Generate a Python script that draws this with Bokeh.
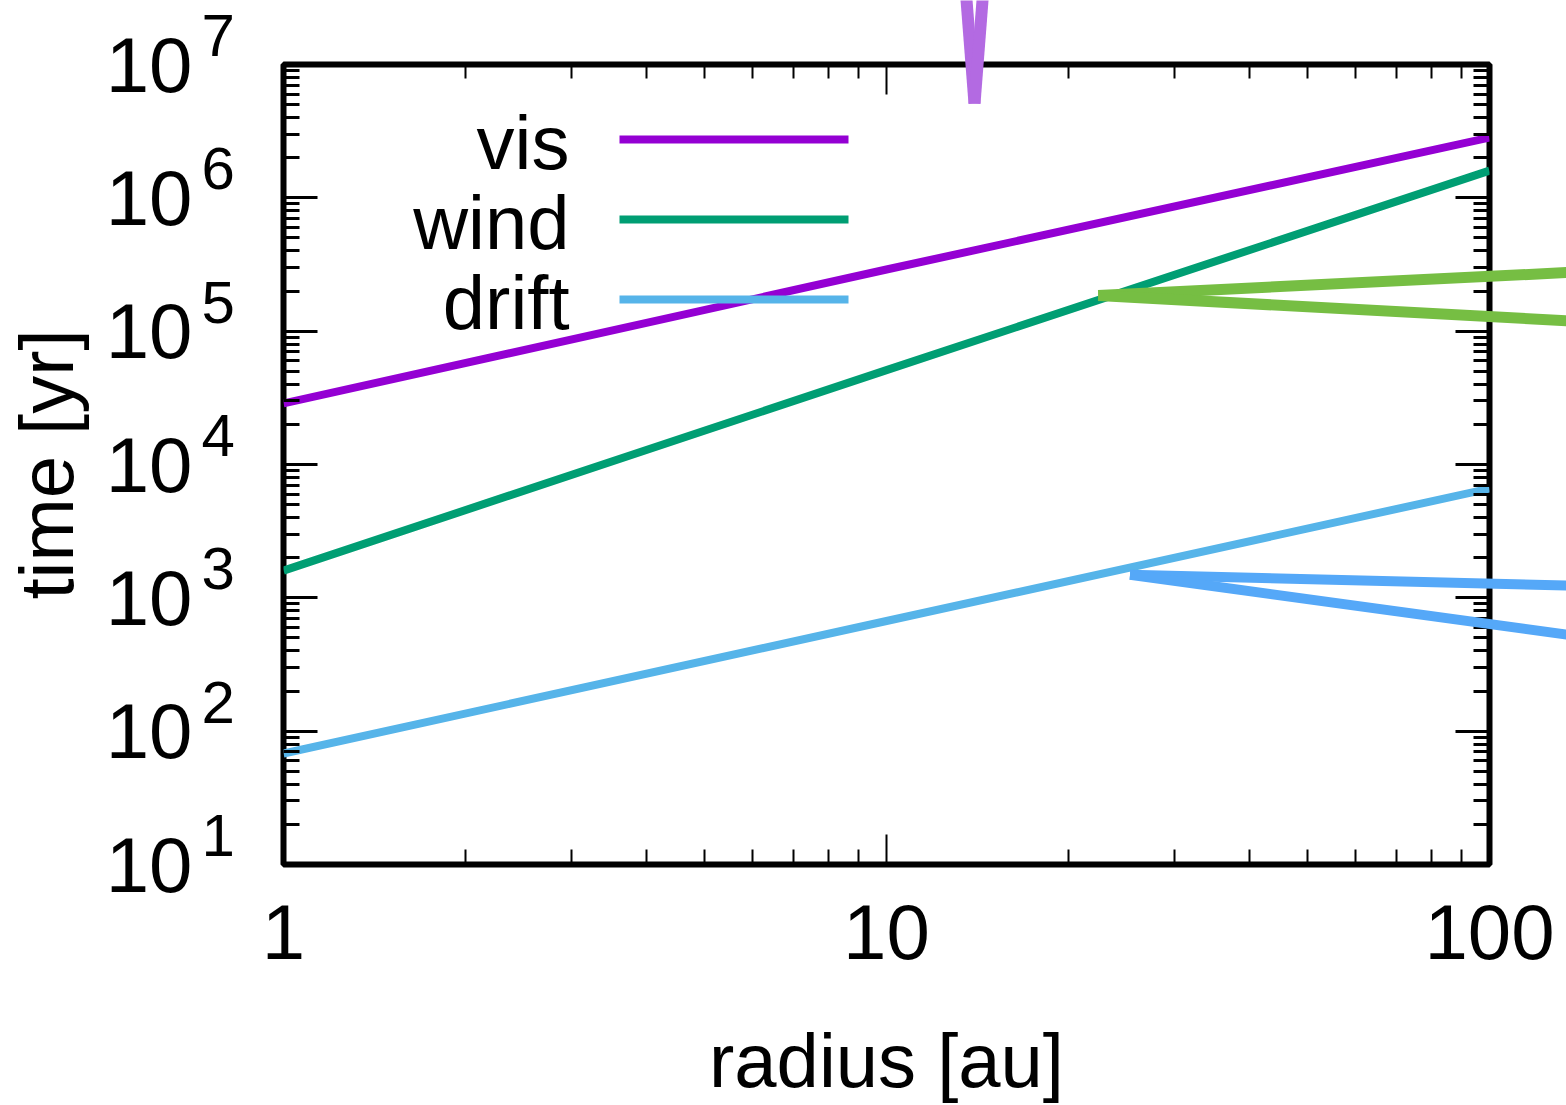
import math
from bokeh.plotting import figure
from bokeh.models import LogAxis, FixedTicker, Label, Arrow, Range1d
from bokeh.core.properties import value
from bokeh.embed import file_html
from bokeh.resources import INLINE

FONT = "Liberation Sans"

# ---- data ----
radius = [1, 10, 100]
t_vis = [2.87e4, 2.9e5, 2.83e6]
t_wind = [1.6e3, 5.1e4, 1.6e6]
t_drift = [68, 670, 6.6e3]

series_names = ["vis", "wind", "drift"]
series_colors = ["#9400d3", "#009e73", "#56b4e9"]
series_values = [t_vis, t_wind, t_drift]

# ---- axis ticks ----
x_start, x_end = 1, 100
y_start, y_end = 10, 1e7
x_major = [1, 10, 100]
x_labels = ["1", "10", "100"]
x_minor = [2, 3, 4, 5, 6, 7, 8, 9, 20, 30, 40, 50, 60, 70, 80, 90]
y_major = [1e1, 1e2, 1e3, 1e4, 1e5, 1e6, 1e7]
y_base = "10"
y_exponents = ["1", "2", "3", "4", "5", "6", "7"]
y_minor = [m * d for d in [1e1, 1e2, 1e3, 1e4, 1e5, 1e6] for m in range(2, 10)]

# ---- stray wedge marks (apex, end 1, end 2) ----
green_wedge_x = [22.5, 164.8, 164.8]
green_wedge_y = [1.85e5, 2.88e5, 1.14e5]
blue_wedge_x = [25.4, 164.8, 164.8]
blue_wedge_y = [1.49e3, 1.21e3, 466]
purple_wedge_x = [14.04, 13.54, 14.56]
purple_wedge_y = [5.09e6, 4.27e7, 4.27e7]
wedges = [
    (green_wedge_x, green_wedge_y, "#76be43", 11),
    (blue_wedge_x, blue_wedge_y, "#55a8f8", 10),
    (purple_wedge_x, purple_wedge_y, "#b36ae2", 12),
]

# ---- layout geometry ----
W, H = 1566, 1105
B_LEFT, B_RIGHT, B_TOP, B_BOTTOM = 281, 77, 64, 241

p = figure(width=W, height=H, x_axis_type="log", y_axis_type="log",
           x_range=Range1d(x_start, x_end), y_range=Range1d(y_start, y_end),
           output_backend="svg", toolbar_location=None,
           min_border_left=B_LEFT, min_border_right=B_RIGHT,
           min_border_top=B_TOP, min_border_bottom=B_BOTTOM)
p.grid.visible = False
p.background_fill_color = "white"
p.border_fill_color = "white"
p.outline_line_color = "black"
p.outline_line_width = 6

def style_axis(ax, tick_w, major_len, minor_len):
    ax.axis_line_color = None
    ax.major_tick_in = major_len
    ax.major_tick_out = 0
    ax.minor_tick_in = minor_len
    ax.minor_tick_out = 0
    ax.major_tick_line_width = tick_w
    ax.minor_tick_line_width = tick_w
    ax.major_tick_line_color = "black"
    ax.minor_tick_line_color = "black"
    ax.major_label_text_font = FONT
    ax.axis_label_text_font = FONT
    ax.axis_label_text_font_style = "normal"
    ax.major_label_text_color = "black"
    ax.axis_label_text_color = "black"

xa = p.xaxis[0]
xa.ticker = FixedTicker(ticks=x_major, minor_ticks=x_minor)
xa.major_label_overrides = dict(zip(x_major, x_labels))
style_axis(xa, 2, 30, 15)
xa.major_label_text_font_size = "78px"
xa.major_label_standoff = 40
xa.axis_label = "radius [au]"
xa.axis_label_text_font_size = "76px"
xa.axis_label_standoff = 56

ya = p.yaxis[0]
ya.ticker = FixedTicker(ticks=y_major, minor_ticks=y_minor)
ya.major_label_overrides = {v: y_base for v in y_major}
style_axis(ya, 3, 34, 16)
ya.major_label_text_font_size = "78px"
ya.major_label_standoff = 91
ya.axis_label = "time [yr]"
ya.axis_label_text_font_size = "76px"
ya.axis_label_standoff = 14

ra = LogAxis(ticker=FixedTicker(ticks=y_major, minor_ticks=y_minor))
style_axis(ra, 3, 34, 16)
ra.major_label_text_font_size = "2px"
ra.major_label_text_color = None
ra.major_label_standoff = 1
p.add_layout(ra, "right")

ta = LogAxis(ticker=FixedTicker(ticks=x_major, minor_ticks=x_minor))
style_axis(ta, 2, 30, 14)
ta.major_label_text_font_size = "2px"
ta.major_label_text_color = None
ta.major_label_standoff = 1
p.add_layout(ta, "above")

# data lines
for name, color, vals in zip(series_names, series_colors, series_values):
    p.line(radius, vals, line_color=color, line_width=8)

# legend (text left of sample, gnuplot style)
legend_top = 725
legend_step = 80
for i, (name, color) in enumerate(zip(series_names, series_colors)):
    sy = legend_top - i * legend_step
    p.add_layout(Arrow(end=None, x_start=336, y_start=sy, x_end=565, y_end=sy,
                       start_units="screen", end_units="screen",
                       line_color=color, line_width=8, line_cap="butt"))
    p.add_layout(Label(x=286, y=sy - 3, x_units="screen", y_units="screen",
                       text=name, text_align="right", text_baseline="alphabetic",
                       text_font=FONT, text_font_size="76px", text_color="black"))

# ---- transparent overlay sharing the same log scales, covering the whole canvas,
#      so that marks outside the frame (exponents, stray wedges) are not clipped ----
fw = W - B_LEFT - B_RIGHT
fh = H - B_TOP - B_BOTTOM
lx0, lx1 = math.log10(x_start), math.log10(x_end)
ly0, ly1 = math.log10(y_start), math.log10(y_end)
kx = (lx1 - lx0) / fw
ky = (ly1 - ly0) / fh
ov_x = Range1d(10 ** (lx0 - B_LEFT * kx), 10 ** (lx1 + B_RIGHT * kx))
ov_y = Range1d(10 ** (ly0 - B_BOTTOM * ky), 10 ** (ly1 + B_TOP * ky))

q = figure(width=W, height=H, x_axis_type="log", y_axis_type="log",
           x_range=ov_x, y_range=ov_y, x_axis_location=None, y_axis_location=None,
           output_backend="svg", toolbar_location=None,
           min_border=0, min_border_left=0, min_border_right=0,
           min_border_top=0, min_border_bottom=0)
q.grid.visible = False
q.background_fill_color = None
q.border_fill_color = None
q.outline_line_color = None
q.styles = {"position": "absolute", "left": "0px", "top": "0px"}

# exponents of the y tick labels
q.text(x=[x_start] * len(y_major), y=y_major, text=y_exponents,
       x_offset=-80, y_offset=-29, text_font=value(FONT),
       text_font_size=value("60px"), text_baseline="alphabetic",
       text_align="left", text_color="black")

# stray wedges
for wx, wy, color, lw in wedges:
    q.multi_line(xs=[[wx[0], wx[1]], [wx[0], wx[2]]],
                 ys=[[wy[0], wy[1]], [wy[0], wy[2]]],
                 line_color=color, line_width=lw, line_cap="butt")

open("out.html", "w").write(file_html([p, q], INLINE))
